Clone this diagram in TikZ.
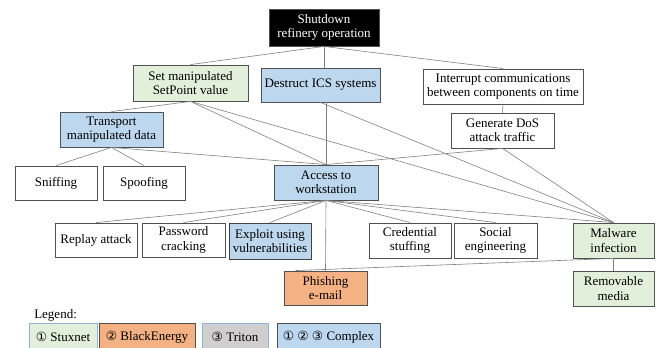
\documentclass[tikz,border=0pt]{standalone}
\usepackage{fontspec}
\setmainfont{Liberation Serif}
\newfontfamily\symfont{DejaVu Sans}
\definecolor{gfill}{HTML}{E2EFDA}
\definecolor{bfill}{HTML}{BDD7EE}
\definecolor{ofill}{HTML}{F4B183}
\definecolor{tfill}{HTML}{D0CECE}
\definecolor{bord}{HTML}{505050}
\definecolor{lbord}{HTML}{8FB4D9}
\definecolor{edgec}{HTML}{808080}
\newcommand{\cn}[1]{{\symfont\fontsize{9.5}{10}\selectfont #1}}
\begin{document}
\begin{tikzpicture}[x=0.75pt,y=-0.75pt,
  box/.style={draw=bord, line width=0.65pt, inner sep=0pt, align=center,
    font=\rmfamily\fontsize{9.75}{10.8}\selectfont},
  sz/.style 2 args={minimum width=#1*0.75pt, minimum height=#2*0.75pt},
  green/.style={box, fill=gfill},
  blue/.style={box, fill=bfill},
  orange/.style={box, fill=ofill},
  plain/.style={box, fill=white},
  link/.style={draw=edgec, line width=0.45pt}]
\useasboundingbox (0,0) rectangle (661,348);
% nodes
\node[box, fill=black, text=white, sz={110}{37}] (top) at (324,27.5) {Shutdown\\refinery operation};
\node[green, sz={115}{36}] (set) at (190.5,83) {Set manipulated\\SetPoint value};
\node[blue, sz={119}{34}] (destr) at (320.5,85) {Destruct ICS systems};
\node[plain, sz={160}{35}] (intr) at (503,86.5) {Interrupt communications\\between components on time};
\node[blue, sz={103}{35}] (trans) at (111.5,129.5) {Transport\\manipulated data};
\node[plain, sz={103}{35}] (dos) at (502.5,130.5) {Generate DoS\\attack traffic};
\node[plain, sz={82}{34}] (sniff) at (56,183) {Sniffing};
\node[plain, sz={82}{34}] (spoof) at (144,183) {Spoofing};
\node[blue, sz={104}{35}] (access) at (326,182.5) {Access to\\workstation};
\node[plain, sz={82}{34}] (replay) at (96,240) {Replay attack};
\node[plain, sz={83}{34}] (pass) at (183.5,240) {Password\\cracking};
\node[blue, draw=black!75, sz={82}{36}] (exploit) at (270,241) {Exploit using\\vulnerabilities};
\node[plain, sz={82}{35}] (cred) at (410,240.5) {Credential\\stuffing};
\node[plain, sz={83}{35}] (social) at (495.5,240.5) {Social\\engineering};
\node[green, sz={81}{35}] (malw) at (613.5,240.5) {Malware\\infection};
\node[orange, sz={83}{34}] (phish) at (325.5,288) {Phishing\\e-mail};
\node[green, sz={81}{35}] (remov) at (613.5,288.5) {Removable\\media};
% legend
\node[anchor=west, inner sep=0pt, font=\rmfamily\fontsize{9.75}{10.8}\selectfont] (leg) at (34,315) {Legend:};
\node[box, draw=lbord, fill=gfill, sz={68}{28}] (lstux) at (63,337) {\cn{①} Stuxnet};
\node[box, fill=ofill, sz={96}{28}] (lblack) at (147,337) {\cn{②} BlackEnergy};
\node[box, draw=lbord, fill=tfill, sz={66}{28}] (ltrit) at (235,337) {\cn{③} Triton};
\node[box, fill=bfill, sz={103}{28}] (lcomp) at (328.5,337) {\cn{①} \cn{②} \cn{③} Complex};
% connectors
\draw[link] (top.south) -- (set.north);
\draw[link] (top.south) -- (top.south |- destr.north);
\draw[link] (top.south) -- (intr.north);
\draw[link] (set.south) -- (trans.north);
\draw[link] (set.south) -- (access.north);
\draw[link] (set.south) -- (malw.north);
\draw[link] (destr.south -| access.north) -- (access.north);
\draw[link] (destr.south) -- (malw.north);
\draw[link] (intr.south) -- (dos.north);
\draw[link] (dos.south) -- (access.north);
\draw[link] (dos.south) -- (malw.north);
\draw[link] (trans.south) -- (sniff.north);
\draw[link] (trans.south) -- (spoof.north);
\draw[link] (trans.south) -- (access.north);
\draw[link] (access.south) -- (replay.north);
\draw[link] (access.south) -- (pass.north);
\draw[link] (access.south) -- (exploit.north);
\draw[link] (access.south) -- (phish.north);
\draw[link] (access.south) -- (cred.north);
\draw[link] (access.south) -- (social.north);
\draw[link] (access.south) -- (malw.north);
\draw[link] (malw.south) -- ([xshift=9pt]phish.north west);
\draw[link] (malw.south) -- (remov.north);
\end{tikzpicture}
\end{document}
